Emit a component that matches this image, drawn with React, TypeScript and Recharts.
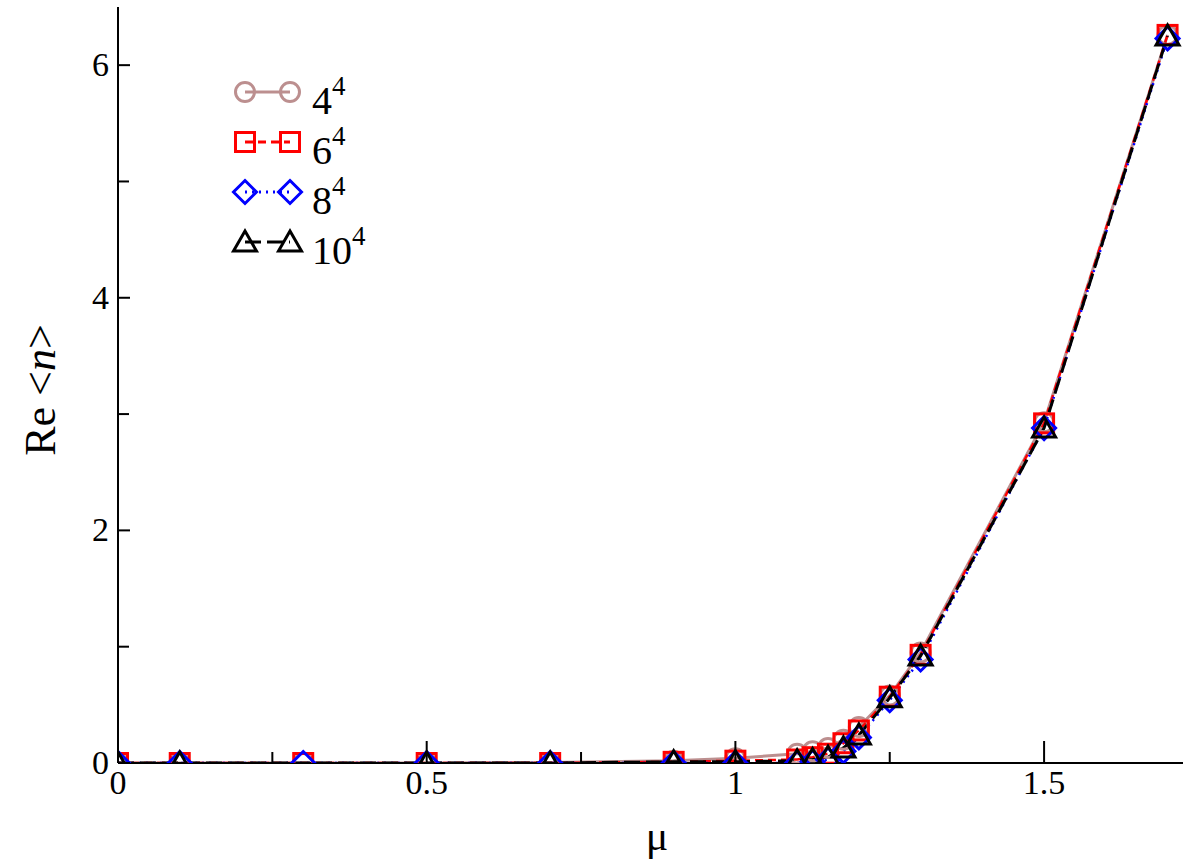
import React from "react"
import { LineChart, Line, XAxis, YAxis } from "recharts"

// chemical potential values (x) and Re<n> for the four lattice sizes
const muValues = [0, 0.1, 0.3, 0.5, 0.7, 0.9, 1.0, 1.1, 1.125, 1.15, 1.175, 1.2, 1.25, 1.3, 1.5, 1.7]
const n4 = [0, 0, 0, 0, 0.005, 0.02, 0.04, 0.08, 0.1, 0.13, 0.2, 0.31, 0.58, 0.95, 2.93, 6.26]
const n6 = [0, 0, 0, 0, 0, 0.01, 0.02, 0.03, 0.05, 0.08, 0.17, 0.28, 0.57, 0.93, 2.92, 6.26]
const n8 = [0, 0, 0, 0, 0, 0, 0, 0, 0.01, 0.03, 0.1, 0.22, 0.54, 0.89, 2.88, 6.23]
const n10 = [0, 0, null, 0, 0, 0.01, 0.01, 0.02, 0.03, 0.05, 0.13, 0.24, 0.56, 0.92, 2.88, 6.25]

const xTicks = [0, 0.25, 0.5, 0.75, 1, 1.25, 1.5]
const yTicks = [0, 1, 2, 3, 4, 5, 6]

const seriesNames = ["4", "6", "8", "10"]

const chartData = muValues.map((mu, i) => ({
  mu,
  n4: n4[i],
  n6: n6[i],
  n8: n8[i],
  n10: n10[i]
}))

const FONT = "'Liberation Serif', 'DejaVu Serif', serif"
const BROWN = "#bc8f8f"
const RED = "#ff0000"
const BLUE = "#0000ff"

type Shape = "circle" | "square" | "diamond" | "triangle"

function marker(shape: Shape, cx: number, cy: number, color: string, key?: string) {
  const sw = 3
  switch (shape) {
    case "circle":
      return <circle key={key} cx={cx} cy={cy} r={9.5} fill="none" stroke={color} strokeWidth={sw} />
    case "square":
      return <rect key={key} x={cx - 9.5} y={cy - 9.5} width={19} height={19} fill="none" stroke={color} strokeWidth={sw} />
    case "diamond":
      return (
        <polygon
          key={key}
          points={`${cx},${cy - 11.5} ${cx + 11.5},${cy} ${cx},${cy + 11.5} ${cx - 11.5},${cy}`}
          fill="none"
          stroke={color}
          strokeWidth={sw}
        />
      )
    default:
      return (
        <polygon
          key={key}
          points={`${cx},${cy - 11} ${cx + 11.5},${cy + 9} ${cx - 11.5},${cy + 9}`}
          fill="none"
          stroke={color}
          strokeWidth={sw}
        />
      )
  }
}

function makeDot(shape: Shape, color: string) {
  return (props: any) => {
    const { cx, cy, index, value } = props
    if (cx == null || cy == null || value == null) return <g key={`${shape}-${index}`} />
    return marker(shape, cx, cy, color, `${shape}-${index}`)
  }
}

function isMajor(v: number, step: number) {
  const r = v / step
  return Math.abs(r - Math.round(r)) < 1e-6
}

function BottomTick({ x, y, payload }: any) {
  const major = isMajor(payload.value, 0.5)
  return (
    <g>
      <line x1={x} y1={y} x2={x} y2={y - (major ? 22 : 11)} stroke="#000" strokeWidth={2} />
      {major && (
        <text x={x} y={y + 31} textAnchor="middle" fontFamily={FONT} fontSize={34} fill="#000">
          {payload.value}
        </text>
      )}
    </g>
  )
}

function TopTick({ x, y, payload }: any) {
  const major = isMajor(payload.value, 0.5)
  return <line x1={x} y1={y} x2={x} y2={y + (major ? 22 : 11)} stroke="#000" strokeWidth={2} />
}

function LeftTick({ x, y, payload }: any) {
  const major = isMajor(payload.value, 2)
  return (
    <g>
      <line x1={x} y1={y} x2={x + (major ? 12 : 11)} y2={y} stroke="#000" strokeWidth={2} />
      {major && (
        <text x={x - 9} y={y + 11} textAnchor="end" fontFamily={FONT} fontSize={34} fill="#000">
          {payload.value}
        </text>
      )}
    </g>
  )
}

function RightTick({ x, y, payload }: any) {
  const major = isMajor(payload.value, 2)
  return <line x1={x} y1={y} x2={x - (major ? 12 : 11)} y2={y} stroke="#000" strokeWidth={2} />
}

const legendRows: { shape: Shape; color: string; dash?: string; label: string }[] = [
  { shape: "circle", color: BROWN, label: seriesNames[0] },
  { shape: "square", color: RED, dash: "8 5", label: seriesNames[1] },
  { shape: "diamond", color: BLUE, dash: "2 5", label: seriesNames[2] },
  { shape: "triangle", color: "#000", dash: "16 6", label: seriesNames[3] }
]

function LegendBox() {
  return (
    <div style={{ position: "absolute", left: 220, top: 67 }}>
      {legendRows.map(row => (
        <div key={row.label} style={{ display: "flex", alignItems: "center", height: 50 }}>
          <svg width={88} height={40}>
            <line x1={25} y1={20} x2={70} y2={20} stroke={row.color} strokeWidth={3} strokeDasharray={row.dash} />
            {marker(row.shape, 25, 20, row.color)}
            {marker(row.shape, 70, 20, row.color)}
          </svg>
          <span style={{ fontFamily: FONT, fontSize: 40, lineHeight: 1, marginLeft: 4, marginTop: 18 }}>
            {row.label}
            <sup style={{ fontSize: 27, verticalAlign: 0, position: "relative", top: -19 }}>4</sup>
          </span>
        </div>
      ))}
    </div>
  )
}

export default function App() {
  return (
    <div style={{ position: "absolute", left: 0, top: 0, width: 1184, height: 867, background: "#fff" }}>
      <LineChart
        width={1184}
        height={867}
        data={chartData}
        margin={{ top: 7, right: 1, left: 0, bottom: 0 }}
      >
        <XAxis
          dataKey="mu"
          type="number"
          domain={[0, 1.725]}
          ticks={xTicks}
          height={104}
          tickSize={0}
          tickMargin={0}
          tickLine={false}
          tick={<BottomTick />}
          axisLine={{ stroke: "#000", strokeWidth: 2 }}
          allowDataOverflow
        />
        <XAxis
          xAxisId="top"
          orientation="top"
          dataKey="mu"
          type="number"
          domain={[0, 1.725]}
          ticks={xTicks}
          height={0}
          tickSize={0}
          tickMargin={0}
          tickLine={false}
          tick={<TopTick />}
          axisLine={{ stroke: "#000", strokeWidth: 2 }}
          allowDataOverflow
        />
        <YAxis
          type="number"
          domain={[0, 6.5]}
          ticks={yTicks}
          width={118}
          tickSize={0}
          tickMargin={0}
          tickLine={false}
          tick={<LeftTick />}
          axisLine={{ stroke: "#000", strokeWidth: 2 }}
          allowDataOverflow
        />
        <YAxis
          yAxisId="right"
          orientation="right"
          type="number"
          domain={[0, 6.5]}
          ticks={yTicks}
          width={0}
          tickSize={0}
          tickMargin={0}
          tickLine={false}
          tick={<RightTick />}
          axisLine={{ stroke: "#000", strokeWidth: 2 }}
          allowDataOverflow
        />
        <Line
          dataKey="n4"
          stroke={BROWN}
          strokeWidth={3}
          dot={makeDot("circle", BROWN)}
          activeDot={false}
          isAnimationActive={false}
        />
        <Line
          dataKey="n6"
          stroke={RED}
          strokeWidth={2.5}
          strokeDasharray="8 5"
          dot={makeDot("square", RED)}
          activeDot={false}
          isAnimationActive={false}
        />
        <Line
          dataKey="n8"
          stroke={BLUE}
          strokeWidth={2.5}
          strokeDasharray="2 5"
          dot={makeDot("diamond", BLUE)}
          activeDot={false}
          isAnimationActive={false}
        />
        <Line
          dataKey="n10"
          stroke="#000"
          strokeWidth={3}
          strokeDasharray="16 6"
          connectNulls
          dot={makeDot("triangle", "#000")}
          activeDot={false}
          isAnimationActive={false}
        />
      </LineChart>
      <LegendBox />
      <div
        style={{
          position: "absolute",
          left: 40,
          top: 390,
          transform: "translate(-50%, -50%) rotate(-90deg)",
          fontFamily: FONT,
          fontSize: 44,
          whiteSpace: "nowrap"
        }}
      >
        Re &lt;<i>n</i>&gt;
      </div>
      <div
        style={{
          position: "absolute",
          left: 657,
          top: 815,
          transform: "translateX(-50%)",
          fontFamily: FONT,
          fontSize: 42,
          lineHeight: 1
        }}
      >
        μ
      </div>
    </div>
  )
}
